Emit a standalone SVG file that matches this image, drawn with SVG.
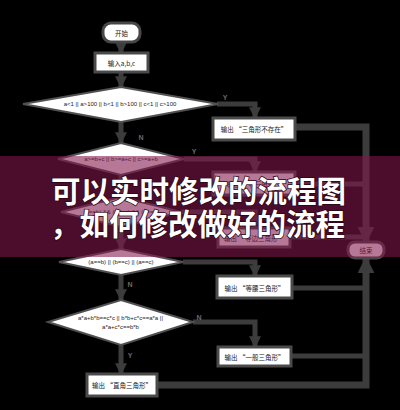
<svg xmlns="http://www.w3.org/2000/svg" width="400" height="410" viewBox="0 0 400 410">
<style>
.bg{fill:#000}
.term{fill:#fff;stroke:#474747;stroke-width:3}
.box{fill:#fff;stroke:#4a4a4a;stroke-width:3}
.dia{fill:#fff;stroke:#505050;stroke-width:2}
.t{font-family:"Noto Sans CJK SC","Liberation Sans",sans-serif;font-size:6.5px;fill:#222;text-anchor:middle;dominant-baseline:central}
.d{font-family:"Liberation Sans","Noto Sans CJK SC",sans-serif;font-size:6px;fill:#222;text-anchor:middle;dominant-baseline:central}
.lbl{font-family:"Liberation Sans",sans-serif;font-size:7px;font-weight:bold;fill:#6a6a6a;text-anchor:middle;dominant-baseline:central}
.c{fill:none;stroke:#3c3c3c;stroke-width:5}
.cr{fill:none;stroke:#3c3c3c;stroke-width:7}
.ban{font-family:"Noto Sans CJK SC",sans-serif;font-size:29.5px;font-weight:bold;fill:#fff;stroke:#2a0614;stroke-width:1.5;paint-order:stroke}
</style>
<defs>
<marker id="ah" viewBox="0 0 10 10" refX="9" refY="5" markerWidth="2.4" markerHeight="2.4" orient="auto">
<path d="M0,0 L10,5 L0,10 z" fill="#3c3c3c"/>
</marker>
</defs>
<rect class="bg" x="0" y="0" width="400" height="410"/>
<g id="connectors">
<path class="c" d="M121,42 V53" marker-end="url(#ah)"/>
<path class="c" d="M121,72 V87" marker-end="url(#ah)"/>
<path class="c" d="M217,104 H255 V118" marker-end="url(#ah)"/>
<path class="c" d="M121,122 V143" marker-end="url(#ah)"/>
<path class="c" d="M184,159 H255 V172" marker-end="url(#ah)"/>
<path class="c" d="M121,175 V197" marker-end="url(#ah)"/>
<path class="c" d="M181,212 H255 V228" marker-end="url(#ah)"/>
<path class="c" d="M121,227 V249" marker-end="url(#ah)"/>
<path class="c" d="M183,262 H255 V276" marker-end="url(#ah)"/>
<path class="c" d="M121,275 V300" marker-end="url(#ah)"/>
<path class="c" d="M193,322 H255 V347" marker-end="url(#ah)"/>
<path class="c" d="M121,345 V374" marker-end="url(#ah)"/>
<path class="cr" d="M295,127 H366 V242" marker-end="url(#ah)"/>
<path class="cr" d="M157,385 H366 V258" marker-end="url(#ah)"/>
<path class="c" d="M295,184 H366"/>
<path class="c" d="M290,237 H366"/>
<path class="c" d="M292,288 H366"/>
<path class="c" d="M291,356 H366"/>
<text class="lbl" x="225" y="97">Y</text>
<text class="lbl" x="141" y="137">N</text>
<text class="lbl" x="194" y="151">Y</text>
<text class="lbl" x="130" y="284">N</text>
<text class="lbl" x="199" y="317">N</text>
<text class="lbl" x="130" y="355">Y</text>
</g>
<g id="start">
<rect class="term" x="103" y="23" width="37" height="19" rx="8"/>
<text class="t" x="121.5" y="32.5">开始</text>
</g>
<g id="input">
<rect class="box" x="95" y="53" width="53" height="19"/>
<text class="t" x="121.5" y="62.5">输入a,b,c</text>
</g>
<g id="check-range">
<polygon class="dia" points="121,87 218,104 121,122 23,104"/>
<text class="d" x="120" y="104">a&lt;1 || a&gt;100 || b&lt;1 || b&gt;100 || c&lt;1 || c&gt;100</text>
</g>
<g id="out-notexist">
<rect class="box" x="213" y="118" width="82" height="22"/>
<text class="t" x="254" y="129">输出 “三角形不存在”</text>
</g>
<g id="check-triangle">
<polygon class="dia" points="121,143 184,159 121,175 58,159"/>
<text class="d" x="121" y="159">a&gt;=b+c || b&gt;=a+c || c&gt;=a+b</text>
</g>
<g id="out-nontriangle">
<rect class="box" x="213" y="172" width="82" height="23"/>
<text class="t" x="254" y="183.5">输出 “非三角形”</text>
</g>
<g id="check-equilateral">
<polygon class="dia" points="121,197 181,212 121,227 61,212"/>
<text class="d" x="121" y="212">(a==b) &amp;&amp; (b==c) &amp;&amp; (a==c)</text>
</g>
<g id="out-equilateral">
<rect class="box" x="218" y="228" width="72" height="19"/>
<text class="t" x="254" y="237.5">输出 “等边三角形”</text>
</g>
<g id="check-isosceles">
<polygon class="dia" points="121,249 183,262 121,275 59,262"/>
<text class="d" x="121" y="262">(a==b) || (b==c) || (a==c)</text>
</g>
<g id="out-isosceles">
<rect class="box" x="217" y="276" width="75" height="22"/>
<text class="t" x="254.5" y="287.5">输出 “等腰三角形”</text>
</g>
<g id="check-right">
<polygon class="dia" points="121,300 193,322 121,345 48,322"/>
<text class="d" x="120.5" y="317.5">a*a+b*b==c*c || b*b+c*c==a*a ||</text>
<text class="d" x="120.5" y="326.5">a*a+c*c==b*b</text>
</g>
<g id="out-general">
<rect class="box" x="218" y="347" width="73" height="19"/>
<text class="t" x="254.5" y="356.5">输出 “一般三角形”</text>
</g>
<g id="out-right">
<rect class="box" x="87" y="374" width="70" height="22"/>
<text class="t" x="122" y="385">输出 “直角三角形”</text>
</g>
<g id="end">
<rect class="term" x="348" y="242" width="36" height="16" rx="7"/>
<text class="t" x="366" y="250">结束</text>
</g>
<g id="banner">
<rect x="0" y="156" width="400" height="101" fill="#81164a" opacity="0.58"/>
<text class="ban" x="51" y="202">可以实时修改的流程图</text>
<text class="ban" x="50" y="235">，如何修改做好的流程</text>
</g>
</svg>
